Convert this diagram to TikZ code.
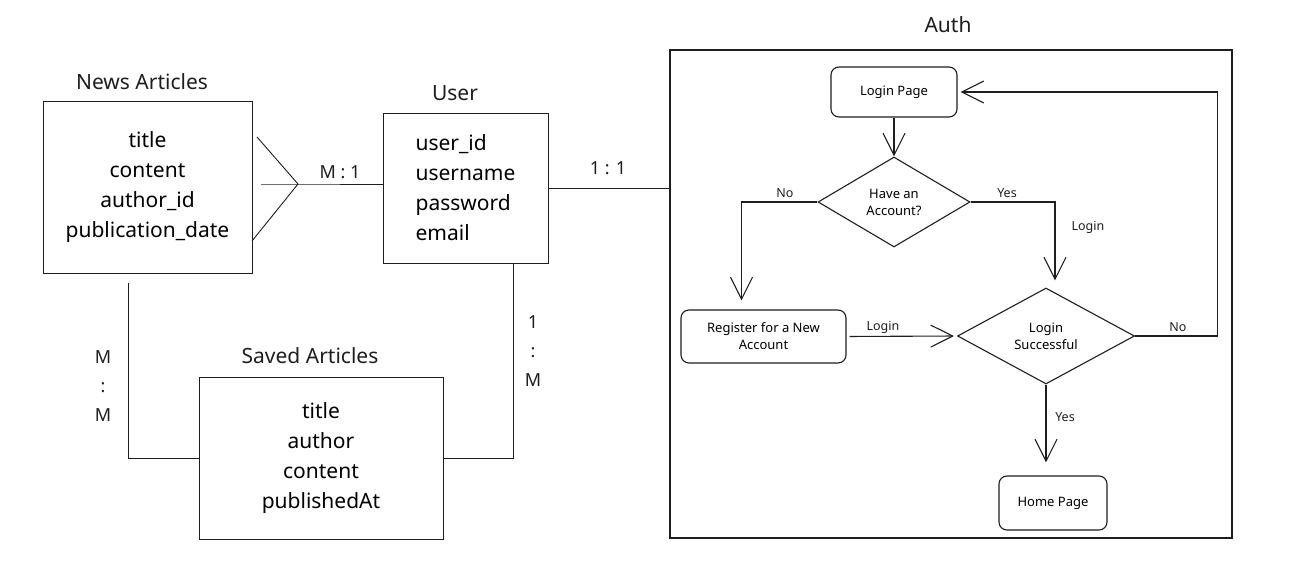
\documentclass[tikz,border=0pt]{standalone}
\usepackage{fontspec}
\setmainfont{Noto Sans}
\usetikzlibrary{arrows.meta,shapes.geometric,positioning}
\definecolor{ink}{HTML}{1E1E1E}
\tikzset{
  entity/.style={draw=ink, line width=0.9pt, align=center, inner sep=0pt,
    font=\fontsize{21}{30}\selectfont},
  heading/.style={font=\fontsize{21}{25}\selectfont, text=ink},
  ratio/.style={font=\fontsize{18}{29}\selectfont, text=ink, align=center},
  stepbox/.style={draw=ink, line width=1.1pt, rounded corners=8pt, align=center,
    inner sep=0pt, font=\fontsize{13}{17}\selectfont},
  decision/.style={draw=ink, line width=1.1pt, diamond, inner sep=0pt, align=center,
    font=\fontsize{13}{17}\selectfont},
  flow/.style={draw=ink, line width=1.1pt,
    -{Straight Barb[length=22pt,width=22pt,line width=1.1pt]}},
  tag/.style={font=\fontsize{12.5}{14}\selectfont, text=ink},
  link/.style={draw=ink, line width=0.9pt}
}
\begin{document}
\begin{tikzpicture}[x=1pt, y=-1pt]
\useasboundingbox (0,0) rectangle (1291,577);

% entities
\node[entity, minimum width=209, minimum height=172] (news) at (147.5,187)
  {title\\content\\author\_id\\publication\_date};
\node[heading] (newst) at (142,82) {News Articles};
\node[entity, align=left, minimum width=165, minimum height=150] (user) at (465.5,188)
  {user\_id\\username\\password\\email};
\node[heading] (usert) at (455,93) {User};
\node[entity, minimum width=244, minimum height=162] (saved) at (321,458)
  {title\\author\\content\\publishedAt};
\node[heading] (savedt) at (310,356) {Saved Articles};

% relations
\coordinate (cf) at (298,184);
\coordinate (cfa) at (257,137);
\coordinate (cfb) at (252,241);
\draw[link] (cfa) -- (cf) -- (cfb);
\draw[link] ([xshift=9pt]news.east |- cf) -- (cf) -- (cf -| user.west);
\node[ratio] (mone) at (340,172) {M : 1};
\draw[link] ([xshift=-19pt,yshift=-10pt]news.south) |- (saved.west);
\node[ratio] (mm) at (103,386) {M\\:\\M};
\draw[link] ([xshift=48pt]user.south) |- (saved.east);
\node[ratio] (onem) at (533,351) {1\\:\\M};

% auth flow
\node[draw=ink, line width=1.1pt, minimum width=562, minimum height=488] (auth) at (951,294) {};
\node[heading] (autht) at (948,25) {Auth};
\draw[link] (user.east) -- (auth.west |- user.east);
\node[ratio] (oneone) at (608,168) {1 : 1};

\node[stepbox, minimum width=126, minimum height=50] (login) at (894,92) {Login Page};
\node[decision, minimum width=152, minimum height=90] (acct) at (894,202) {Have an\\Account?};
\node[stepbox, minimum width=165, minimum height=53] (reg) at (763.5,336.5) {Register for a New\\Account};
\node[decision, minimum width=177, minimum height=96] (ok) at (1046,336) {Login\\Successful};
\node[stepbox, minimum width=108, minimum height=54] (home) at (1053,503) {Home Page};

\draw[flow] (login) -- (acct);
\draw[flow, shorten >=9pt] (acct.west) -| ([xshift=-22pt]reg.north);
\draw[flow, shorten >=7pt] (acct.east) -| ([xshift=9pt]ok.north);
\draw[flow, shorten <=3pt, shorten >=3pt] (reg.east) -- (ok.west);
\draw[flow, shorten >=3pt] (ok.east) -- ++(82,0) |- (login.east);
\draw[flow, shorten >=13pt] (ok.south) -- (ok.south |- home.north);

\node[tag] (tno) at (785,193) {No};
\node[tag] (tyes) at (1007,193) {Yes};
\node[tag] (tlogin) at (1088,227) {Login};
\node[tag] (tlogin2) at (883,327) {Login};
\node[tag] (tno2) at (1178,327) {No};
\node[tag] (tyes2) at (1065,417) {Yes};
\end{tikzpicture}
\end{document}
